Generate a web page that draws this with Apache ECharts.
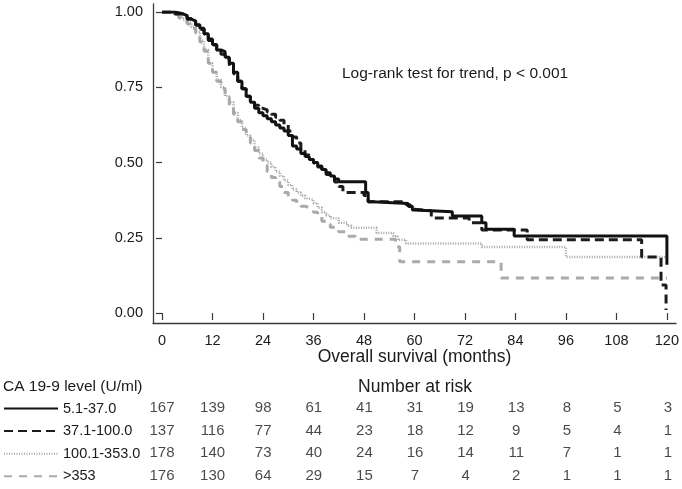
<!DOCTYPE html>
<html><head><meta charset="utf-8">
<script src="https://cdn.jsdelivr.net/npm/echarts@6/dist/echarts.min.js"></script>
<style>html,body{margin:0;padding:0;background:#fff}#c{width:682px;height:489px}</style>
</head><body><div id="c"></div>
<script>
const months = [0,12,24,36,48,60,72,84,96,108,120];
const yTicks = [0,0.25,0.5,0.75,1];
const groups = ['5.1-37.0','37.1-100.0','100.1-353.0','>353'];
const risk1 = [167,139,98,61,41,31,19,13,8,5,3];
const risk2 = [137,116,77,44,23,18,12,9,5,4,1];
const risk3 = [178,140,73,40,24,16,14,11,7,1,1];
const risk4 = [176,130,64,29,15,7,4,2,1,1,1];
const km1 = [[0,1],[2,1],[3,0.994],[5,0.988],[6,0.976],[7,0.97],[8,0.958],[9,0.946],[10,0.928],[11,0.91],[12,0.892],[13,0.874],[14,0.868],[15,0.85],[16,0.83],[17,0.8],[18,0.77],[19,0.745],[20,0.72],[21,0.7],[22,0.68],[23,0.665],[24,0.655],[25,0.645],[26,0.635],[27,0.625],[28,0.615],[29,0.605],[30,0.59],[31,0.555],[32,0.545],[33,0.53],[34,0.52],[35,0.51],[36,0.5],[37,0.488],[38,0.477],[39,0.466],[40,0.455],[41,0.445],[42,0.436],[48.4,0.4],[49,0.37],[50,0.364],[58.5,0.355],[59.5,0.342],[60,0.336],[69,0.322],[76,0.3],[77,0.278],[83.7,0.256],[120,0.16]];
const km2 = [[0,1],[2,1],[3,0.993],[5,0.985],[6,0.978],[7,0.97],[8,0.956],[9,0.942],[10,0.927],[11,0.905],[12,0.89],[13,0.874],[14,0.86],[15,0.845],[16,0.82],[17,0.795],[18,0.77],[19,0.745],[20,0.72],[21,0.705],[22,0.69],[23,0.68],[24,0.675],[25,0.668],[26,0.66],[27,0.65],[28,0.64],[29,0.625],[30,0.605],[31,0.585],[32,0.565],[33,0.545],[34,0.525],[35,0.51],[36,0.498],[37,0.485],[38,0.47],[39,0.46],[40,0.45],[41,0.435],[42,0.42],[43,0.4],[48,0.39],[49,0.37],[58,0.36],[59,0.345],[60,0.34],[64,0.316],[73,0.3],[76,0.276],[86.8,0.243],[114,0.186],[118.6,0.093],[119.8,0.01]];
const km3 = [[0,1],[2,0.995],[3,0.99],[4,0.985],[5,0.975],[6,0.965],[7,0.95],[8,0.935],[9,0.905],[10,0.875],[11,0.83],[12,0.8],[13,0.775],[14,0.75],[15,0.72],[16,0.7],[17,0.665],[18,0.64],[19,0.615],[20,0.59],[21,0.575],[22,0.55],[23,0.53],[24,0.51],[25,0.5],[26,0.485],[27,0.47],[28,0.455],[29,0.44],[30,0.425],[31,0.41],[32,0.4],[33,0.39],[34,0.38],[35,0.376],[36,0.365],[37,0.35],[38,0.335],[39,0.325],[40,0.315],[42,0.3],[44,0.29],[45,0.283],[51,0.266],[55,0.255],[56,0.243],[58,0.231],[76,0.219],[96,0.186],[120,0.186]];
const km4 = [[0,1],[2,0.995],[3,0.99],[4,0.98],[5,0.97],[6,0.96],[7,0.945],[8,0.93],[9,0.9],[10,0.87],[11,0.83],[12,0.8],[13,0.77],[14,0.745],[15,0.715],[16,0.69],[17,0.66],[18,0.635],[19,0.61],[20,0.585],[21,0.565],[22,0.54],[23,0.515],[24,0.49],[25,0.47],[26,0.45],[27,0.435],[28,0.42],[29,0.4],[30,0.385],[31,0.375],[32,0.365],[33,0.355],[34,0.35],[35,0.345],[36,0.335],[37,0.32],[38,0.305],[39,0.295],[40,0.285],[42,0.27],[44,0.255],[46,0.245],[55.5,0.22],[56.5,0.17],[80.6,0.116],[120,0.116]];

const FONT = '"Liberation Sans", Arial, sans-serif';
const TXT = '#1a1a1a';
const AX = '#3a3a3a';
const riskRows = [risk1, risk2, risk3, risk4];
const riskData = [];
riskRows.forEach((row, gi) => row.forEach((n, i) => riskData.push([months[i], groups[gi], n])));

const chart = echarts.init(document.getElementById('c'), null, {renderer: 'canvas'});
chart.setOption({
  animation: false,
  backgroundColor: '#fff',
  textStyle: {fontFamily: FONT},
  grid: [
    {left: 162, right: 14, top: 12, bottom: 176},
    {left: 153, right: 6, top: 4, bottom: 166},
    {left: 162, right: 14, top: 397, bottom: 2}
  ],
  legend: {
    orient: 'vertical', left: 3, top: 401, padding: 0, itemWidth: 54, itemHeight: 12, itemGap: 7.6,
    data: groups, selectedMode: false,
    itemStyle: {opacity: 0},
    textStyle: {fontFamily: FONT, fontSize: 14.5, color: TXT}
  },
  xAxis: [
    {gridIndex: 0, type: 'value', min: 0, max: 120, interval: 12, offset: 10,
     axisLine: {show: false}, splitLine: {show: false},
     axisTick: {show: true, length: 7, lineStyle: {color: AX, width: 1.2}},
     axisLabel: {margin: 10, fontSize: 14.5, color: TXT, fontFamily: FONT},
     name: 'Overall survival (months)', nameLocation: 'middle', nameGap: 25.5, nameMoveOverlap: false,
     nameTextStyle: {fontSize: 17.5, color: TXT, fontFamily: FONT}},
    {gridIndex: 1, type: 'value', min: 0, max: 1, axisLine: {show: true, lineStyle: {color: AX, width: 1.3}},
     axisTick: {show: false}, axisLabel: {show: false}, splitLine: {show: false}},
    {gridIndex: 2, type: 'value', min: 0, max: 120, show: false}
  ],
  yAxis: [
    {gridIndex: 0, type: 'value', min: 0, max: 1, interval: 0.25, offset: 9,
     axisLine: {show: false}, splitLine: {show: false},
     axisTick: {show: true, length: 6, lineStyle: {color: AX, width: 1.2}},
     axisLabel: {margin: 10, fontSize: 14.5, color: TXT, fontFamily: FONT, formatter: v => v.toFixed(2)}},
    {gridIndex: 1, type: 'value', min: 0, max: 1, axisLine: {show: true, lineStyle: {color: AX, width: 1.3}},
     axisTick: {show: false}, axisLabel: {show: false}, splitLine: {show: false}},
    {gridIndex: 2, type: 'category', data: groups, inverse: true, show: false}
  ],
  series: [
    {name: groups[0], type: 'line', step: 'end', data: km1, showSymbol: false, symbol: 'none',
     lineStyle: {color: '#111', width: 3, type: 'solid'}, itemStyle: {color: '#111'}, z: 5},
    {name: groups[1], type: 'line', step: 'end', data: km2, showSymbol: false, symbol: 'none',
     lineStyle: {color: '#1c1c1c', width: 3, type: [9, 5]}, itemStyle: {color: '#1c1c1c'}, z: 4},
    {name: groups[2], type: 'line', step: 'end', data: km3, showSymbol: false, symbol: 'none',
     lineStyle: {color: '#a5a5a5', width: 2.5, type: [1, 1.5]}, itemStyle: {color: '#a5a5a5'}, z: 3},
    {name: groups[3], type: 'line', step: 'end', data: km4, showSymbol: false, symbol: 'none',
     lineStyle: {color: '#aaaaaa', width: 3, type: [8, 7]}, itemStyle: {color: '#aaaaaa'}, z: 2},
    {name: 'risk', type: 'scatter', xAxisIndex: 2, yAxisIndex: 2, data: riskData, symbolSize: 1,
     itemStyle: {color: 'rgba(0,0,0,0)'}, silent: true,
     label: {show: true, position: 'inside', formatter: p => String(p.value[2]), fontSize: 15, color: TXT, fontFamily: FONT}}
  ],
  graphic: [
    {type: 'text', left: 342, top: 66, style: {text: 'Log-rank test for trend, p < 0.001', font: '15.5px ' + FONT, fill: TXT}},
    {type: 'text', left: 3, top: 379, style: {text: 'CA 19-9 level (U/ml)', font: '15.5px ' + FONT, fill: TXT}},
    {type: 'text', x: 415, y: 387, style: {text: 'Number at risk', font: '17.5px ' + FONT, fill: TXT, textAlign: 'center', textVerticalAlign: 'middle'}}
  ]
});
</script></body></html>
